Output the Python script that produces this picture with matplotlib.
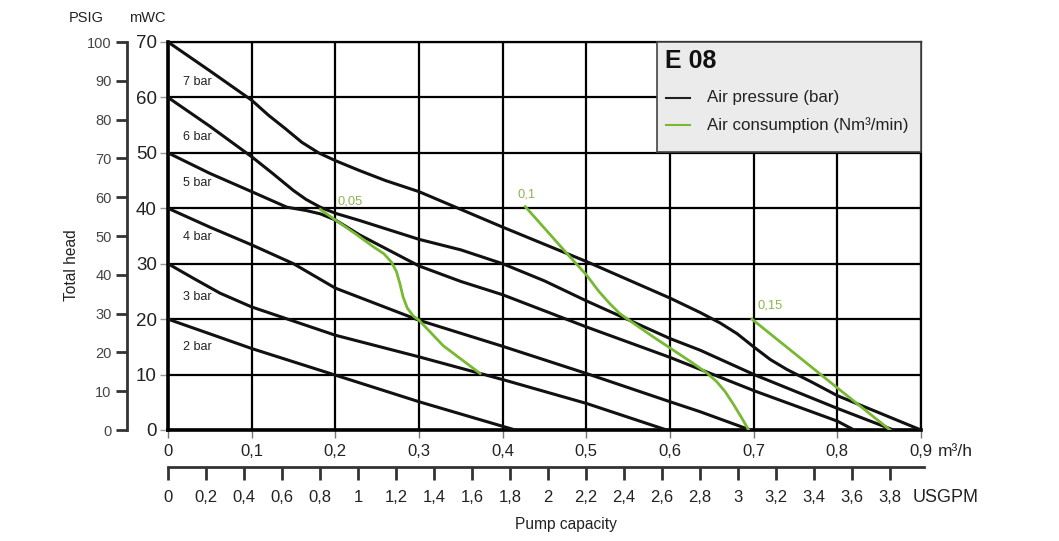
import numpy as np
import matplotlib
matplotlib.use('Agg')
import matplotlib.pyplot as plt
from matplotlib.patches import Rectangle

plt.rcParams['font.family'] = ['Liberation Sans', 'DejaVu Sans']

# air pressure curves, x in m3/h, y in mWC
bar7_x = [0, 0.05, 0.1, 0.12, 0.14, 0.16, 0.18, 0.2, 0.229, 0.26, 0.3, 0.4, 0.5, 0.6, 0.636, 0.66, 0.68, 0.7, 0.72, 0.74, 0.77, 0.8, 0.9]
bar7_y = [70, 64.8, 59.5, 56.8, 54.4, 51.9, 50.0, 48.6, 46.8, 45.0, 43.0, 36.6, 30.4, 23.8, 21.2, 19.3, 17.4, 15.0, 12.7, 10.9, 8.6, 6.2, 0]
bar6_x = [0, 0.05, 0.1, 0.125, 0.15, 0.165, 0.182, 0.2, 0.229, 0.3, 0.35, 0.4, 0.45, 0.5, 0.6, 0.636, 0.702, 0.8, 0.867]
bar6_y = [60, 54.8, 49.3, 46.3, 43.2, 41.6, 40.2, 39.1, 37.8, 34.4, 32.5, 30.0, 26.9, 23.3, 16.5, 14.4, 9.9, 3.9, 0]
bar5_x = [0, 0.05, 0.1, 0.142, 0.165, 0.182, 0.2, 0.229, 0.3, 0.35, 0.4, 0.5, 0.6, 0.702, 0.8, 0.82]
bar5_y = [50, 46.3, 43.0, 40.2, 39.6, 39.0, 37.9, 35.2, 29.6, 26.8, 24.4, 18.6, 13.1, 7.0, 1.6, 0]
bar4_x = [0, 0.05, 0.1, 0.15, 0.2, 0.3, 0.4, 0.5, 0.6, 0.636, 0.696]
bar4_y = [40, 36.6, 33.4, 30.0, 25.6, 19.8, 15.1, 10.2, 5.1, 3.3, 0]
bar3_x = [0, 0.03, 0.062, 0.1, 0.2, 0.3, 0.4, 0.5, 0.596]
bar3_y = [30, 27.4, 24.7, 22.2, 17.1, 13.2, 9.1, 4.8, 0]
bar2_x = [0, 0.1, 0.2, 0.3, 0.415]
bar2_y = [20, 14.7, 9.9, 5.1, 0]

pressure_curves = [(bar7_x, bar7_y), (bar6_x, bar6_y), (bar5_x, bar5_y),
                   (bar4_x, bar4_y), (bar3_x, bar3_y), (bar2_x, bar2_y)]
bar_labels = ['7 bar', '6 bar', '5 bar', '4 bar', '3 bar', '2 bar']
bar_label_y = [62.8, 52.9, 44.5, 34.9, 24.0, 15.0]

# air consumption curves (Nm3/min)
air005_x = [0.182, 0.2, 0.225, 0.245, 0.258, 0.267, 0.273, 0.277, 0.281, 0.286, 0.293, 0.3, 0.329, 0.373]
air005_y = [39.8, 37.9, 35.3, 33.1, 31.8, 30.3, 28.6, 26.5, 24.0, 22.0, 20.6, 19.8, 15.2, 10.2]
air01_x = [0.427, 0.44, 0.46, 0.48, 0.5, 0.515, 0.528, 0.54, 0.556, 0.58, 0.6, 0.625, 0.644, 0.656, 0.666, 0.676, 0.686, 0.694]
air01_y = [40.3, 38.1, 34.7, 31.3, 28.0, 25.0, 22.8, 21.0, 19.3, 16.8, 14.8, 12.3, 10.3, 8.7, 6.9, 4.6, 2.1, 0]
air015_x = [0.698, 0.8, 0.863]
air015_y = [20.0, 7.6, 0]
air_curves = [(air005_x, air005_y), (air01_x, air01_y), (air015_x, air015_y)]
air_labels = ['0,05', '0,1', '0,15']
air_label_pos = [(0.203, 41.3), (0.418, 42.4), (0.704, 22.4)]

x_ticks = [0, 0.1, 0.2, 0.3, 0.4, 0.5, 0.6, 0.7, 0.8, 0.9]
x_ticklabels = ['0', '0,1', '0,2', '0,3', '0,4', '0,5', '0,6', '0,7', '0,8', '0,9']
y_ticks = [0, 10, 20, 30, 40, 50, 60, 70]
psig_ticks = [0, 10, 20, 30, 40, 50, 60, 70, 80, 90, 100]
gpm_ticks = [0, 0.2, 0.4, 0.6, 0.8, 1, 1.2, 1.4, 1.6, 1.8, 2, 2.2, 2.4, 2.6, 2.8, 3, 3.2, 3.4, 3.6, 3.8]

W, H = 1059, 541
green = '#78b833'
green_txt = '#8db552'
txt = '#222222'

fig = plt.figure(figsize=(W / 100, H / 100), dpi=100)
fig.patch.set_facecolor('white')

ax = fig.add_axes([168 / W, 1 - 430 / H, 753 / W, 388 / H])
ax.set_xlim(0, 0.9)
ax.set_ylim(0, 70)
ax.set_xticks(x_ticks)
ax.set_xticklabels(x_ticklabels)
ax.set_yticks(y_ticks)
ax.grid(True, color='black', lw=1.6)
ax.tick_params(axis='x', length=6, width=1, color='#777', pad=4, labelsize=12, labelcolor=txt)
ax.tick_params(axis='y', length=6, width=1, color='#999', pad=2, labelsize=13.5, labelcolor=txt)
for s in ['left', 'bottom']:
    ax.spines[s].set_linewidth(2.6)
for s in ['top', 'right']:
    ax.spines[s].set_linewidth(1.6)

for (xs, ys) in pressure_curves:
    ax.plot(xs, ys, color='#111', lw=2.2, zorder=3, solid_joinstyle='round')
for lab, yy in zip(bar_labels, bar_label_y):
    ax.text(0.018, yy, lab, fontsize=9, va='center', ha='left', color=txt)

for (xs, ys) in air_curves:
    ax.plot(xs, ys, color=green, lw=2.0, zorder=4, solid_joinstyle='round')
for lab, (lx, ly) in zip(air_labels, air_label_pos):
    ax.text(lx, ly, lab, fontsize=9.3, color=green_txt, va='center', ha='left')

# legend box
x0 = (657 - 168) / 836.7
y0 = (430 - 152) / 5.543
ax.add_patch(Rectangle((x0, y0), 0.9 - x0, 70 - y0, facecolor='#ebebeb',
                       edgecolor='#444', lw=1.2, zorder=5, clip_on=False))
ax.text(0.594, 66.6, 'E 08', fontsize=18, fontweight='bold', va='center', zorder=6, color='#111')
ax.plot([0.595, 0.624], [59.9, 59.9], color='#222', lw=1.5, zorder=6)
ax.plot([0.595, 0.624], [55.0, 55.0], color=green, lw=1.5, zorder=6)
ax.text(0.644, 59.9, 'Air pressure (bar)', fontsize=12.2, va='center', zorder=6, color=txt)
ax.text(0.644, 55.0, 'Air consumption (Nm\u00b3/min)', fontsize=12.2, va='center', zorder=6, color=txt)

# PSIG axis
ax2 = fig.add_axes([127 / W, 1 - 430 / H, 0.0005, 388 / H])
ax2.set_facecolor('none')
ax2.set_ylim(0, 100)
ax2.set_yticks(psig_ticks)
ax2.set_xticks([])
for s in ['top', 'right', 'bottom']:
    ax2.spines[s].set_visible(False)
ax2.spines['left'].set_linewidth(2)
ax2.spines['left'].set_color('#333')
ax2.tick_params(axis='y', length=8, width=2, color='#333', pad=3, labelsize=10.5, labelcolor='#444')

# USGPM axis
ax3 = fig.add_axes([168 / W, 1 - 467 / H, 756 / W, 0.0005])
ax3.set_facecolor('none')
ax3.set_xlim(0, 3.98)
ax3.set_xticks(gpm_ticks)
ax3.set_xticklabels([('%g' % v).replace('.', ',') for v in gpm_ticks])
ax3.set_yticks([])
for s in ['top', 'right', 'left']:
    ax3.spines[s].set_visible(False)
ax3.spines['bottom'].set_linewidth(2)
ax3.spines['bottom'].set_color('#333')
ax3.tick_params(axis='x', length=9.5, width=2, color='#333', pad=7, labelsize=12, labelcolor=txt)

fig.text(938 / W, 1 - 452 / H, 'm\u00b3/h', fontsize=12.5, va='center', ha='left', color=txt)
fig.text(913 / W, 1 - 498 / H, 'USGPM', fontsize=13, va='center', ha='left', color=txt)
fig.text(566 / W, 1 - 524 / H, 'Pump capacity', fontsize=11.2, va='center', ha='center', color=txt)
fig.text(86 / W, 1 - 18 / H, 'PSIG', fontsize=10.5, va='center', ha='center', color=txt)
fig.text(147 / W, 1 - 18 / H, 'mWC', fontsize=10.5, va='center', ha='center', color=txt)
fig.text(72 / W, 1 - 265 / H, 'Total head', fontsize=11.2, va='center', ha='center', rotation=90, color=txt)

fig.savefig('out.png', dpi=100)
